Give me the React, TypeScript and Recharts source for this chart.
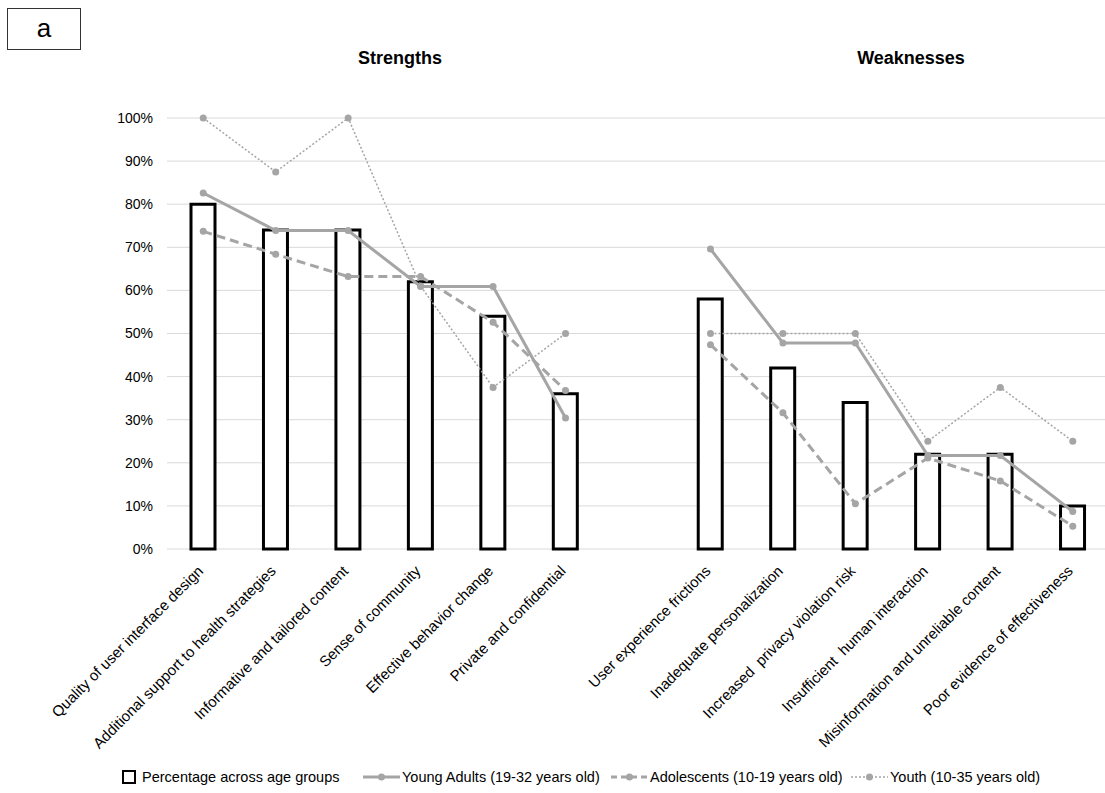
import { Bar, CartesianGrid, ComposedChart, Line, XAxis, YAxis } from "recharts";

const FONT = '"Liberation Sans", Arial, Helvetica, sans-serif';
const GRAY = "#a5a5a5";

// one blank slot keeps the two groups apart
const categories = [
  "Quality of user interface design",
  "Additional support to health strategies",
  "Informative and tailored content",
  "Sense of community",
  "Effective behavior change",
  "Private and confidential",
  "",
  "User experience frictions",
  "Inadequate personalization",
  "Increased  privacy violation risk",
  "Insufficient  human interaction",
  "Misinformation and unreliable content",
  "Poor evidence of effectiveness",
];

const overall = [80, 74, 74, 62, 54, 36, null, 58, 42, 34, 22, 22, 10];
const youngAdults = [82.6, 73.9, 73.9, 60.9, 60.9, 30.4, null, 69.6, 47.8, 47.8, 21.7, 21.7, 8.7];
const adolescents = [73.7, 68.4, 63.2, 63.2, 52.6, 36.8, null, 47.4, 31.6, 10.5, 21.1, 15.8, 5.3];
const youth = [100, 87.5, 100, 61, 37.5, 50, null, 50, 50, 50, 25, 37.5, 25];

const yTicks = [0, 10, 20, 30, 40, 50, 60, 70, 80, 90, 100];

const rows = categories.map((name, i) => ({
  name,
  overall: overall[i],
  youngAdults: youngAdults[i],
  adolescents: adolescents[i],
  youth: youth[i],
}));

function AngledTick({ x, y, payload }: any) {
  const ax = x + 1;
  const ay = y + 15;
  return (
    <text
      x={ax}
      y={ay}
      transform={`rotate(-45 ${ax} ${ay})`}
      textAnchor="end"
      fontSize={15}
      fontFamily={FONT}
      fill="#000"
      style={{ whiteSpace: "pre" }}
    >
      {payload.value}
    </text>
  );
}

function LineIcon({ dash, width }: { dash?: string; width: number }) {
  return (
    <svg width={37} height={10} style={{ display: "block" }}>
      <line x1={0} y1={5} x2={37} y2={5} stroke={GRAY} strokeWidth={width} strokeDasharray={dash} />
      <circle cx={18.5} cy={5} r={3.5} fill={GRAY} />
    </svg>
  );
}

const legendText: React.CSSProperties = {
  position: "absolute",
  top: 0,
  fontSize: 14.5,
  lineHeight: "17px",
  whiteSpace: "nowrap",
};

const titleStyle: React.CSSProperties = {
  position: "absolute",
  width: 200,
  top: 48,
  textAlign: "center",
  fontWeight: "bold",
  fontSize: 18,
};

export default function App() {
  return (
    <div
      style={{
        position: "fixed",
        left: 0,
        top: 0,
        width: 1105,
        height: 793,
        overflow: "hidden",
        background: "#fff",
        fontFamily: FONT,
        color: "#000",
      }}
    >
      <div
        style={{
          position: "absolute",
          left: 7,
          top: 8,
          width: 72,
          height: 40,
          border: "1px solid #333",
          fontSize: 26,
          lineHeight: "38px",
          textAlign: "center",
        }}
      >
        a
      </div>
      <div style={{ ...titleStyle, left: 300 }}>Strengths</div>
      <div style={{ ...titleStyle, left: 811 }}>Weaknesses</div>

      <ComposedChart
        width={1110}
        height={793}
        data={rows}
        margin={{ top: 118, right: 1, bottom: 0, left: 0 }}
      >
        <CartesianGrid vertical={false} stroke="#d9d9d9" strokeWidth={1} />
        <XAxis
          dataKey="name"
          interval={0}
          axisLine={false}
          tickLine={false}
          height={244}
          tick={<AngledTick />}
        />
        <YAxis
          domain={[0, 100]}
          ticks={yTicks}
          width={167}
          axisLine={false}
          tickLine={false}
          tickMargin={8}
          tickFormatter={(v) => `${v}%`}
          tick={{ fontSize: 14, fontFamily: FONT, fill: "#000" }}
        />
        <Bar dataKey="overall" barSize={24} fill="#fff" stroke="#000" strokeWidth={3} isAnimationActive={false} />
        <Line
          dataKey="youngAdults"
          stroke={GRAY}
          strokeWidth={3}
          dot={{ r: 3.5, fill: GRAY, stroke: "none" }}
          activeDot={false}
          isAnimationActive={false}
        />
        <Line
          dataKey="adolescents"
          stroke={GRAY}
          strokeWidth={3}
          strokeDasharray="9 5"
          dot={{ r: 3.5, fill: GRAY, stroke: "none" }}
          activeDot={false}
          isAnimationActive={false}
        />
        <Line
          dataKey="youth"
          stroke={GRAY}
          strokeWidth={1.5}
          strokeDasharray="2 2"
          dot={{ r: 3.5, fill: GRAY, stroke: "none", strokeDasharray: "" }}
          activeDot={false}
          isAnimationActive={false}
        />
      </ComposedChart>

      <div style={{ position: "absolute", left: 0, top: 769, width: 1105, height: 18 }}>
        <div style={{ position: "absolute", left: 122, top: 1, width: 10, height: 10, border: "2px solid #000" }} />
        <span style={{ ...legendText, left: 142 }}>Percentage across age groups</span>
        <div style={{ position: "absolute", left: 363, top: 3 }}>
          <LineIcon width={3} />
        </div>
        <span style={{ ...legendText, left: 402 }}>Young Adults (19-32 years old)</span>
        <div style={{ position: "absolute", left: 611, top: 3 }}>
          <LineIcon width={3} dash="6 4" />
        </div>
        <span style={{ ...legendText, left: 650 }}>Adolescents (10-19 years old)</span>
        <div style={{ position: "absolute", left: 851, top: 3 }}>
          <LineIcon width={1.5} dash="2 2" />
        </div>
        <span style={{ ...legendText, left: 890 }}>Youth (10-35 years old)</span>
      </div>
    </div>
  );
}
